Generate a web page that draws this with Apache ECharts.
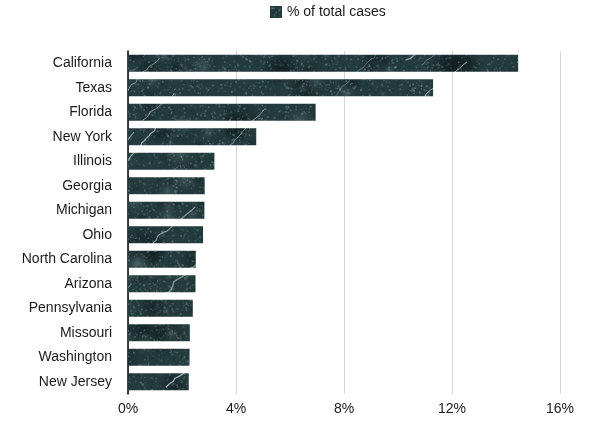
<!DOCTYPE html>
<html>
<head>
<meta charset="utf-8">
<script src="https://cdn.jsdelivr.net/npm/echarts@6/dist/echarts.min.js"></script>
<style>
  html, body { margin: 0; padding: 0; background: #fff; }
  #chart { width: 600px; height: 423px; }
</style>
</head>
<body>
<div id="chart"></div>
<script>
const states = ["California", "Texas", "Florida", "New York", "Illinois", "Georgia", "Michigan",
    "Ohio", "North Carolina", "Arizona", "Pennsylvania", "Missouri", "Washington", "New Jersey"];
const shareOfCases = [14.45, 11.3, 6.95, 4.75, 3.2, 2.84, 2.83, 2.78, 2.51, 2.5, 2.4, 2.29, 2.28, 2.25];
const xTicks = [0, 4, 8, 12, 16];

// marble-like texture for the bars (seeded, so it's the same every time)
function marbleTexture() {
    const c = document.createElement("canvas");
    c.width = 600; c.height = 423;
    const ctx = c.getContext("2d");
    let seed = 12345;
    const rnd = () => { seed = (seed * 16807) % 2147483647; return seed / 2147483647; };
    ctx.fillStyle = "#233b3c";
    ctx.fillRect(0, 0, c.width, c.height);
    // soft light / dark clouds
    for (let i = 0; i < 400; i++) {
        const x = rnd() * c.width, y = rnd() * c.height, r = 5 + rnd() * 18;
        const light = rnd() > 0.5;
        const grd = ctx.createRadialGradient(x, y, 0, x, y, r);
        grd.addColorStop(0, light ? "rgba(95,125,125,0.45)" : "rgba(12,25,27,0.5)");
        grd.addColorStop(1, "rgba(0,0,0,0)");
        ctx.fillStyle = grd;
        ctx.fillRect(x - r, y - r, r * 2, r * 2);
    }
    // speckles
    for (let i = 0; i < 22000; i++) {
        const g = 20 + Math.floor(rnd() * 110);
        ctx.fillStyle = `rgba(${g},${g + 20},${g + 20},0.5)`;
        ctx.fillRect(rnd() * c.width, rnd() * c.height, 1 + rnd() * 1.2, 1 + rnd() * 1.2);
    }
    // veins, lower-left to upper-right
    for (let v = 0; v < 55; v++) {
        ctx.strokeStyle = `rgba(205,228,225,${0.35 + rnd() * 0.4})`;
        ctx.lineWidth = 0.5 + rnd() * 1.1;
        ctx.beginPath();
        let x = rnd() * c.width, y = rnd() * c.height;
        ctx.moveTo(x, y);
        const len = 8 + Math.floor(rnd() * 10);
        for (let s = 0; s < len; s++) {
            x += 1 + rnd() * 4; y -= 1.5 + rnd() * 3;
            ctx.lineTo(x, y);
        }
        ctx.stroke();
    }
    return c;
}

const chart = echarts.init(document.getElementById("chart"));
const barColor = { image: marbleTexture(), repeat: "repeat" };
const option = {
    animation: false,
    legend: {
        data: ["% of total cases"],
        top: 0,
        left: 265,
        itemWidth: 12,
        itemHeight: 12,
        itemGap: 8,
        icon: "rect",
        textStyle: { fontFamily: "Liberation Sans", fontSize: 14, color: "#1a1a1a" }
    },
    grid: { left: 128, right: 40, top: 51, bottom: 29 },
    xAxis: {
        type: "value",
        min: 0,
        max: xTicks[xTicks.length - 1],
        interval: 4,
        axisLine: { show: false },
        axisTick: { show: false },
        splitLine: { lineStyle: { color: "#d6d6d6", width: 1 } },
        axisLabel: {
            formatter: "{value}%",
            fontFamily: "Liberation Sans", fontSize: 14, color: "#1a1a1a", margin: 8
        }
    },
    yAxis: {
        type: "category",
        data: states,
        inverse: true,
        axisLine: { lineStyle: { color: "#000", width: 1.5 } },
        axisTick: { show: false },
        axisLabel: { fontFamily: "Liberation Sans", fontSize: 14, color: "#1a1a1a", margin: 16 }
    },
    series: [{
        name: "% of total cases",
        type: "bar",
        data: shareOfCases,
        barCategoryGap: "30%",
        itemStyle: { color: barColor }
    }]
};
chart.setOption(option);
window.addEventListener("resize", () => chart.resize());
</script>
</body>
</html>
